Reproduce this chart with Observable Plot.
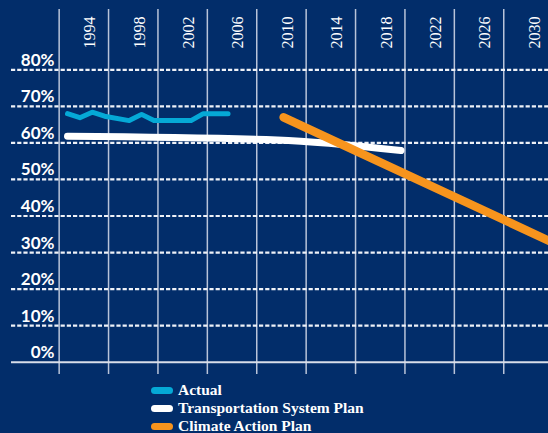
<!DOCTYPE html>
<html>
<head>
<meta charset="utf-8">
<script src="https://cdn.jsdelivr.net/npm/d3@7"></script>
<script src="https://cdn.jsdelivr.net/npm/@observablehq/plot@0.6"></script>
<style>
  html, body { margin: 0; padding: 0; background: #022d6a; overflow: hidden; }
  #wrap { position: relative; width: 548px; height: 433px; background: #022d6a; }
  #legend { position: absolute; left: 151px; top: 381px; font-family: "Liberation Serif", "Times New Roman", serif; font-weight: 700; font-size: 15.5px; color: #fff; }
  .row { height: 18.2px; line-height: 18.2px; display: flex; align-items: center; white-space: nowrap; }
  .sw { display: inline-block; width: 22px; height: 7px; border-radius: 4px; margin-right: 5px; }
</style>
</head>
<body>
<div id="wrap"><div id="chart"></div>
<div id="legend"></div></div>
<script>
// Data
const actualYears = [1993, 1994, 1995, 1996, 1998, 1999, 2000, 2003, 2004, 2006];
const actualValues = [68.0, 66.9, 68.4, 67.3, 66.1, 67.8, 66.1, 66.1, 68.0, 68.0];
const tspYears = [1993, 2010, 2020];
const tspValues = [61.8, 60.8, 57.9];
const capYears = [2010.5, 2032];
const capValues = [67.0, 33.2];
const gridYears = [1992, 1996, 2000, 2004, 2008, 2012, 2016, 2020, 2024, 2028];
const tickYears = [1994, 1998, 2002, 2006, 2010, 2014, 2018, 2022, 2026, 2030];
const yTicks = [0, 10, 20, 30, 40, 50, 60, 70, 80];
const seriesNames = ["Actual", "Transportation System Plan", "Climate Action Plan"];
const seriesColors = ["#05a9d6", "#ffffff", "#f7941d"];

const toRows = (xs, vs) => xs.map((x, i) => ({x, v: vs[i]}));

const chart = Plot.plot({
  width: 548,
  height: 380,
  marginTop: 9,
  marginBottom: 6,
  marginLeft: 0,
  marginRight: 0,
  style: {background: "#022d6a", overflow: "visible"},
  x: {domain: [1993, 2030], range: [67, 67 + 37 * 12.35], axis: null},
  y: {domain: [0, 80], range: [361.7, 69.3], axis: null},
  marks: [
    Plot.ruleX(gridYears, {x: d => d, dx: 4, stroke: "#b9c4d9", strokeWidth: 1.5}),
    Plot.ruleY(yTicks.filter(d => d > 0), {y: d => d, insetLeft: 11, stroke: "#eef1f7", strokeWidth: 2.2, strokeDasharray: "4.2,2"}),
    Plot.ruleY([0], {y: d => d, insetLeft: 11, stroke: "#d8deea", strokeWidth: 2}),
    Plot.text(tickYears, {x: d => d, text: d => String(d), frameAnchor: "top", dx: 4, dy: 39, rotate: -90, textAnchor: "start", fill: "#fff", fontSize: 16, fontFamily: "Liberation Serif, serif"}),
    Plot.text(yTicks, {y: d => d, text: d => d + "%", frameAnchor: "left", dx: 54, dy: -4, textAnchor: "end", lineAnchor: "bottom", fill: "#fff", fontSize: 17, fontWeight: 700, fontFamily: "Lato, sans-serif"}),
    Plot.line(toRows(actualYears, actualValues), {x: "x", y: "v", stroke: seriesColors[0], strokeWidth: 5, strokeLinecap: "round", strokeLinejoin: "round"}),
    Plot.line(toRows(tspYears, tspValues), {x: "x", y: "v", stroke: seriesColors[1], strokeWidth: 7, strokeLinecap: "round", strokeLinejoin: "round", curve: "monotone-x"}),
    Plot.line(toRows(capYears, capValues), {x: "x", y: "v", stroke: seriesColors[2], strokeWidth: 8.5, strokeLinecap: "round", strokeLinejoin: "round"})
  ]
});
document.getElementById("chart").appendChild(chart);

const legend = document.getElementById("legend");
seriesNames.forEach((name, i) => {
  const row = document.createElement("div");
  row.className = "row";
  const sw = document.createElement("span");
  sw.className = "sw";
  sw.style.background = seriesColors[i];
  row.appendChild(sw);
  row.appendChild(document.createTextNode(name));
  legend.appendChild(row);
});
</script>
</body>
</html>
